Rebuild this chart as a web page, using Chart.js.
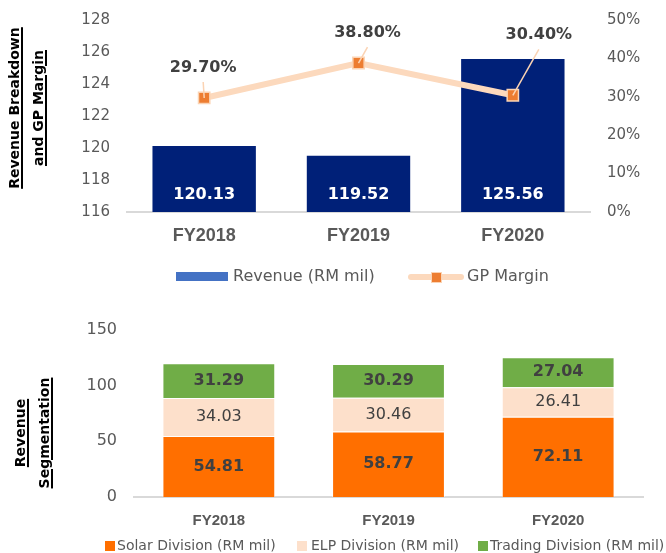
<!DOCTYPE html>
<html>
<head>
<meta charset="utf-8">
<script src="https://cdn.jsdelivr.net/npm/chart.js@4.4.1/dist/chart.umd.min.js"></script>
<style>
  body { margin: 0; background: #fff; }
  #wrap { position: relative; width: 666px; height: 553px; overflow: hidden; font-family: "DejaVu Sans", sans-serif; color: #595959; }
  canvas { position: absolute; left: 0; }
  .ytitle { position: absolute; width: 220px; height: 48px; text-align: center; font: bold 14px "DejaVu Sans", sans-serif; line-height: 24px; color: #000;
            text-decoration: underline; text-decoration-thickness: 2px; text-underline-offset: 2px; transform: rotate(-90deg); }
  .leg { position: absolute; white-space: nowrap; }
  .box { position: absolute; box-sizing: border-box; }
</style>
</head>
<body>
<div id="wrap">
  <canvas id="atas" width="666" height="290" style="top:0"></canvas>
  <canvas id="bawah" width="666" height="253" style="top:300px"></canvas>

  <div class="ytitle" style="left:-84px; top:84px">Revenue Breakdown<br>and GP Margin</div>
  <div class="ytitle" style="left:-78px; top:409px">Revenue<br>Segmentation</div>

  <!-- legenda atas -->
  <div class="box" style="left:176px; top:272px; width:52px; height:9px; background:#4472c4"></div>
  <div class="leg" style="left:233px; top:266px; font-size:16px; line-height:20px">Revenue (RM mil)</div>
  <div class="box" style="left:408px; top:274px; width:56px; height:6px; border-radius:3px; background:#fcd9bd"></div>
  <div class="box" style="left:431px; top:272px; width:11px; height:11px; background:#ed7d31; border:1.5px solid #fbd3b3"></div>
  <div class="leg" style="left:467px; top:266px; font-size:16px; line-height:20px">GP Margin</div>

  <!-- legenda bawah -->
  <div class="box" style="left:105px; top:541px; width:10px; height:10px; background:#ff6f00"></div>
  <div class="leg" style="left:117px; top:536px; font-size:14px; line-height:18px">Solar Division (RM mil)</div>
  <div class="box" style="left:297px; top:541px; width:10px; height:10px; background:#fde0cb"></div>
  <div class="leg" style="left:311px; top:536px; font-size:14px; line-height:18px">ELP Division (RM mil)</div>
  <div class="box" style="left:478px; top:541px; width:10px; height:10px; background:#70ad47"></div>
  <div class="leg" style="left:490px; top:536px; font-size:14px; line-height:18px">Trading Division (RM mil)</div>
</div>

<script>
// Data carta
const tahun = ["FY2018", "FY2019", "FY2020"];
const hasil = [120.13, 119.52, 125.56];      // Revenue (RM mil)
const marginGP = [29.7, 38.8, 30.4];         // GP Margin (%)
const solar = [54.81, 58.77, 72.11];
const elp = [34.03, 30.46, 26.41];
const trading = [31.29, 30.29, 27.04];
const tickHasil = [116, 118, 120, 122, 124, 126, 128];
const tickMargin = [0, 10, 20, 30, 40, 50];
const tickSegmen = [0, 50, 100, 150];

// Kedudukan label margin relatif kepada titik (dx, dy)
const anjakLabel = [[-1, -30], [9, -30], [26, -60]];

const FONT = '"DejaVu Sans", sans-serif';
const KELABU = '#595959';
const GELAP = '#404040';

// lebar paksi tetap; buang padding atas/bawah tambahan dari ticks.padding
function paksiTetap(lebar) {
  return function (s) {
    s.width = lebar;
    s.paddingTop = 0;
    s.paddingBottom = 0;
  };
}

// Plugin label nilai untuk carta atas
const labelAtas = {
  id: 'labelAtas',
  afterDatasetsDraw(chart) {
    const ctx = chart.ctx;
    ctx.save();
    ctx.textAlign = 'center';
    ctx.textBaseline = 'middle';
    // label bar (dasar bar dipotong pada paksi bawah)
    const bar = chart.getDatasetMeta(1);
    const bawah = chart.chartArea.bottom;
    ctx.fillStyle = '#fff';
    ctx.font = 'bold 16px ' + FONT;
    bar.data.forEach((el, i) => {
      ctx.fillText(hasil[i].toFixed(2), el.x, Math.min(el.base, bawah) - 17);
    });
    // label garisan + garis penunjuk
    const garis = chart.getDatasetMeta(0);
    garis.data.forEach((el, i) => {
      const lx = el.x + anjakLabel[i][0];
      const ly = el.y + anjakLabel[i][1];
      ctx.strokeStyle = '#fbd3b3';
      ctx.lineWidth = 1.5;
      ctx.beginPath();
      ctx.moveTo(lx, ly + 14);
      ctx.lineTo(el.x, el.y);
      ctx.stroke();
      ctx.fillStyle = GELAP;
      ctx.font = 'bold 16px ' + FONT;
      ctx.fillText(marginGP[i].toFixed(2) + '%', lx, ly);
    });
    ctx.restore();
  }
};

new Chart(document.getElementById('atas'), {
  data: {
    labels: tahun,
    datasets: [
      {
        type: 'line', label: 'GP Margin', data: marginGP, yAxisID: 'y1', order: 0,
        borderColor: '#fcd9bd', borderWidth: 6, tension: 0,
        pointStyle: 'rect', pointRadius: 8, pointHoverRadius: 8,
        pointBackgroundColor: '#ed7d31', pointBorderColor: '#fbd3b3', pointBorderWidth: 1.5
      },
      {
        type: 'bar', label: 'Revenue (RM mil)', data: hasil, yAxisID: 'y', order: 1,
        backgroundColor: '#002078', barPercentage: 0.67, categoryPercentage: 1
      }
    ]
  },
  options: {
    responsive: false,
    animation: false,
    layout: { padding: { top: 20, left: 0, right: 0, bottom: 0 } },
    plugins: { legend: { display: false }, tooltip: { enabled: false } },
    scales: {
      x: {
        grid: { display: false, drawTicks: false },
        border: { display: true, color: '#d9d9d9', width: 2 },
        ticks: { color: KELABU, font: { family: '"Liberation Sans", sans-serif', weight: 'bold', size: 18 }, padding: 13 },
        afterFit(s) { s.height = 78; }
      },
      y: {
        position: 'left',
        min: tickHasil[0], max: tickHasil[tickHasil.length - 1],
        ticks: { stepSize: tickHasil[1] - tickHasil[0], color: KELABU, font: { family: FONT, size: 15 }, padding: 17 },
        grid: { display: false, drawTicks: false },
        border: { display: false },
        afterFit: paksiTetap(127)
      },
      y1: {
        position: 'right',
        min: tickMargin[0], max: tickMargin[tickMargin.length - 1],
        ticks: { stepSize: tickMargin[1] - tickMargin[0], callback: v => v + '%', color: KELABU, font: { family: FONT, size: 15 }, padding: 17 },
        grid: { display: false, drawTicks: false },
        border: { display: false },
        afterFit: paksiTetap(76)
      }
    }
  },
  plugins: [labelAtas]
});

// Plugin label segmen carta bawah
const labelBawah = {
  id: 'labelBawah',
  afterDatasetsDraw(chart) {
    const ctx = chart.ctx;
    ctx.save();
    ctx.textAlign = 'center';
    ctx.textBaseline = 'middle';
    ctx.fillStyle = GELAP;
    chart.data.datasets.forEach((ds, d) => {
      ctx.font = (d === 1 ? '' : 'bold ') + '16px ' + FONT;
      chart.getDatasetMeta(d).data.forEach((el, i) => {
        ctx.fillText(ds.data[i].toFixed(2), el.x, (el.y + el.base) / 2);
      });
    });
    ctx.restore();
  }
};

new Chart(document.getElementById('bawah'), {
  type: 'bar',
  data: {
    labels: tahun,
    datasets: [
      { label: 'Solar Division (RM mil)', data: solar, backgroundColor: '#ff6f00' },
      { label: 'ELP Division (RM mil)', data: elp, backgroundColor: '#fde0cb' },
      { label: 'Trading Division (RM mil)', data: trading, backgroundColor: '#70ad47' }
    ].map(ds => Object.assign(ds, { barPercentage: 0.665, categoryPercentage: 1, borderColor: 'rgba(255,255,255,0.5)', borderWidth: 1 }))
  },
  options: {
    responsive: false,
    animation: false,
    layout: { padding: { top: 30, left: 0, right: 23, bottom: 0 } },
    plugins: { legend: { display: false }, tooltip: { enabled: false } },
    scales: {
      x: {
        stacked: true,
        grid: { display: false, drawTicks: false },
        border: { display: true, color: '#d9d9d9', width: 2 },
        ticks: { color: KELABU, font: { family: '"Liberation Sans Narrow", "Liberation Sans", sans-serif', weight: 'bold', size: 15 }, padding: 15 },
        afterFit(s) { s.height = 56; }
      },
      y: {
        stacked: true,
        min: tickSegmen[0], max: tickSegmen[tickSegmen.length - 1],
        ticks: { stepSize: tickSegmen[1] - tickSegmen[0], color: KELABU, font: { family: FONT, size: 16 }, padding: 17 },
        grid: { display: false, drawTicks: false },
        border: { display: false },
        afterFit: paksiTetap(134)
      }
    }
  },
  plugins: [labelBawah]
});
</script>
</body>
</html>
